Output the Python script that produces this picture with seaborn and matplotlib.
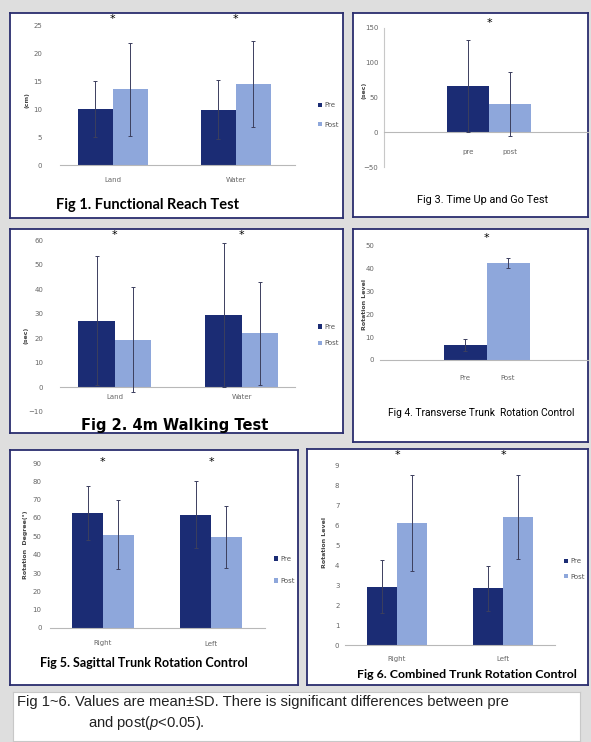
import pandas as pd
import seaborn as sns
import matplotlib.pyplot as plt
from matplotlib.patches import Patch

W, H = 591, 742

pre_color = '#1b2c74'
post_color = '#8ea7db'
err_color = '#3c3f5e'
tick_color = '#666666'

# Fig 1. Functional Reach Test (cm)
reach_groups = ['Land', 'Water']
reach_pre = [10.0, 9.9]
reach_pre_sd = [5.0, 5.2]
reach_post = [13.5, 14.5]
reach_post_sd = [8.3, 7.7]

# Fig 2. 4m Walking Test (sec)
walk_groups = ['Land', 'Water']
walk_pre = [27.2, 29.5]
walk_pre_sd = [26.3, 29.2]
walk_post = [19.5, 22.0]
walk_post_sd = [21.3, 21.1]

# Fig 3. Time Up and Go Test (sec)
tug_labels = ['pre', 'post']
tug_mean = [67.0, 40.0]
tug_sd = [66.0, 46.0]

# Fig 4. Transverse Trunk Rotation Control
trans_labels = ['Pre', 'Post']
trans_mean = [6.6, 42.5]
trans_sd = [2.6, 2.2]

# Fig 5. Sagittal Trunk Rotation Control (degree)
sag_groups = ['Right', 'Left']
sag_pre = [62.7, 61.8]
sag_pre_sd = [14.6, 18.2]
sag_post = [50.9, 49.5]
sag_post_sd = [18.8, 16.8]

# Fig 6. Combined Trunk Rotation Control (level)
comb_groups = ['Right', 'Left']
comb_pre = [2.92, 2.83]
comb_pre_sd = [1.33, 1.14]
comb_post = [6.10, 6.42]
comb_post_sd = [2.40, 2.10]

fig = plt.figure(figsize=(W / 100, H / 100), dpi=100)
fig.patch.set_facecolor('#dedede')
renderer = fig.canvas.get_renderer()


def px_box(l, t, r, b):
    return [l / W, 1 - b / H, (r - l) / W, (b - t) / H]


def frame(l, t, r, b, color='#2a2d6e', lw=1.3):
    fr = fig.add_axes(px_box(l, t, r, b))
    fr.set_facecolor('white')
    fr.set_xticks([])
    fr.set_yticks([])
    for s in fr.spines.values():
        s.set_color(color)
        s.set_linewidth(lw)
    return fr


def fit_text(x, y, s, width_px, **kw):
    t = fig.text(x / W, 1 - y / H, s, ha='center', va='center', fontsize=10, **kw)
    w = t.get_window_extent(renderer).width
    t.set_fontsize(10 * width_px / w)
    return t


def style_axis(ax, ylim, yticks, ypad, xpad, xlim):
    ax.set_facecolor('none')
    ax.set_ylim(*ylim)
    ax.set_xlim(*xlim)
    ax.set_yticks(yticks)
    ax.set_xlabel('')
    ax.set_ylabel('')
    for s in ['top', 'right', 'left']:
        ax.spines[s].set_visible(False)
    ax.spines['bottom'].set_position(('data', 0))
    ax.spines['bottom'].set_color('#b8b8b8')
    ax.spines['bottom'].set_linewidth(0.8)
    ax.tick_params(axis='y', length=0, pad=ypad, labelsize=5, labelcolor=tick_color)
    ax.tick_params(axis='x', length=0, pad=xpad, labelsize=5, labelcolor=tick_color)


def add_errors(ax, sds):
    bars = [p for p in ax.patches if p.get_width() > 0]
    bars = sorted(bars, key=lambda p: p.get_x())
    xs = [p.get_x() + p.get_width() / 2 for p in bars]
    ys = [p.get_height() for p in bars]
    ax.errorbar(xs, ys, yerr=sds, fmt='none', ecolor=err_color, elinewidth=0.7,
                capsize=1.5, capthick=0.7, zorder=5)


def grouped(box, groups, pre, pre_sd, post, post_sd):
    ax = fig.add_axes(px_box(*box))
    df = pd.DataFrame({'group': groups * 2,
                       'phase': ['Pre'] * len(groups) + ['Post'] * len(groups),
                       'value': pre + post})
    sns.barplot(data=df, x='group', y='value', hue='phase', palette=[pre_color, post_color],
                width=0.57, saturation=1, errorbar=None, legend=False, ax=ax)
    sds = [v for pair in zip(pre_sd, post_sd) for v in pair]
    add_errors(ax, sds)
    return ax


def single(box, labels, mean, sd):
    ax = fig.add_axes(px_box(*box))
    df = pd.DataFrame({'phase': labels, 'value': mean})
    sns.barplot(data=df, x='phase', y='value', hue='phase', palette=[pre_color, post_color],
                width=1.0, saturation=1, errorbar=None, legend=False, ax=ax)
    add_errors(ax, sd)
    return ax


def legend(ax, x, y, spacing):
    handles = [Patch(facecolor=pre_color), Patch(facecolor=post_color)]
    ax.legend(handles, ['Pre', 'Post'], loc='center left', bbox_to_anchor=(x / W, 1 - y / H),
              bbox_transform=fig.transFigure, frameon=False, fontsize=5,
              handlelength=0.6, handleheight=0.6, handletextpad=0.3,
              labelspacing=spacing, labelcolor='#555555')


def stars(ax, n, y):
    for i in range(n):
        ax.text(i, y, '*', ha='center', va='center', fontsize=8, color='black')


# panel frames
frame(10, 13, 343, 218)
frame(353, 13, 588, 217)
frame(10, 229, 343, 433)
frame(353, 229, 588, 442)
frame(10, 450, 298, 685)
frame(307, 449, 588, 685)
frame(13, 692, 580, 741, color='#c8c8c8', lw=0.8)

bold = ['Lato', 'DejaVu Sans']
narrow = ['Liberation Sans Narrow', 'Roboto', 'DejaVu Sans']

# Fig 1
ax1 = grouped((60, 25, 295, 165), reach_groups, reach_pre, reach_pre_sd, reach_post, reach_post_sd)
style_axis(ax1, (0, 25), range(0, 26, 5), 13, 9, (-0.43, 1.48))
legend(ax1, 312, 115, 1.9)
stars(ax1, 2, 26.0)
fig.text(27 / W, 1 - 100 / H, '(cm)', rotation=90, ha='center', va='center',
         fontsize=4.5, fontweight='bold', color='#444444')
fit_text(148, 205, 'Fig 1. Functional Reach Test', 183, family=bold, fontweight='bold')

# Fig 2
ax2 = grouped((60, 240, 295, 412), walk_groups, walk_pre, walk_pre_sd, walk_post, walk_post_sd)
style_axis(ax2, (-10, 60), range(-10, 61, 10), 12, 5, (-0.43, 1.42))
legend(ax2, 312, 335, 1.5)
stars(ax2, 2, 62.0)
fig.text(26 / W, 1 - 335 / H, '(sec)', rotation=90, ha='center', va='center',
         fontsize=4.5, fontweight='bold', color='#444444')
fit_text(175, 425, 'Fig 2. 4m Walking Test', 186, family='DejaVu Sans', fontweight='bold')

# Fig 3
ax3 = single((384, 28, 588, 167), tug_labels, tug_mean, tug_sd)
style_axis(ax3, (-50, 150), range(-50, 151, 50), 4, 12, (-2.0, 2.85))
ax3.spines['left'].set_visible(True)
ax3.spines['left'].set_color('#c8c8c8')
ax3.spines['left'].set_linewidth(0.8)
ax3.text(0.5, 157, '*', ha='center', va='center', fontsize=8)
fig.text(364 / W, 1 - 90 / H, '(sec)', rotation=90, ha='center', va='center',
         fontsize=4.5, fontweight='bold', color='#444444')
fit_text(483, 200, 'Fig 3. Time Up and Go Test', 131, family=narrow)

# Fig 4
ax4 = single((380, 246, 588, 360), trans_labels, trans_mean, trans_sd)
style_axis(ax4, (0, 50), range(0, 51, 10), 4, 11, (-1.98, 2.86))
ax4.text(0.5, 53.5, '*', ha='center', va='center', fontsize=8)
fig.text(364 / W, 1 - 305 / H, 'Rotation Level', rotation=90, ha='center', va='center',
         fontsize=4.5, fontweight='bold', color='#444444')
fit_text(481, 413, 'Fig 4. Transverse Trunk  Rotation Control', 187, family=narrow)

# Fig 5
ax5 = grouped((50, 463, 265, 628), sag_groups, sag_pre, sag_pre_sd, sag_post, sag_post_sd)
style_axis(ax5, (0, 90), range(0, 91, 10), 6, 9, (-0.49, 1.5))
legend(ax5, 268, 570, 2.3)
stars(ax5, 2, 90.5)
fig.text(26 / W, 1 - 545 / H, 'Rotation  Degree(°)', rotation=90, ha='center', va='center',
         fontsize=4.5, fontweight='bold', color='#444444')
fit_text(144, 663, 'Fig 5. Sagittal Trunk Rotation Control', 208, family=bold, fontweight='bold')

# Fig 6
ax6 = grouped((345, 465, 555, 645), comb_groups, comb_pre, comb_pre_sd, comb_post, comb_post_sd)
style_axis(ax6, (0, 9), range(0, 10), 4, 8, (-0.49, 1.49))
legend(ax6, 558, 569, 1.3)
stars(ax6, 2, 9.5)
fig.text(325 / W, 1 - 542 / H, 'Rotation Level', rotation=90, ha='center', va='center',
         fontsize=4.5, fontweight='bold', color='#444444')
fit_text(467, 675, 'Fig 6. Combined Trunk Rotation Control', 221, family=bold, fontweight='bold')

# caption
plt.rcParams['mathtext.fontset'] = 'custom'
plt.rcParams['mathtext.it'] = 'Liberation Sans:italic'
plt.rcParams['mathtext.rm'] = 'Liberation Sans'
cap = fig.text(17 / W, 1 - 702 / H,
               'Fig 1~6. Values are mean±SD. There is significant differences between pre',
               ha='left', va='center', fontsize=10, family='Liberation Sans', color='#222222')
cw = cap.get_window_extent(renderer).width
cap.set_fontsize(10 * 491 / cw)
fig.text(88 / W, 1 - 723 / H, 'and post($p$<0.05).', ha='left', va='center',
         fontsize=10 * 491 / cw, family='Liberation Sans', color='#222222')

fig.savefig('out.png', dpi=100, facecolor=fig.get_facecolor())
